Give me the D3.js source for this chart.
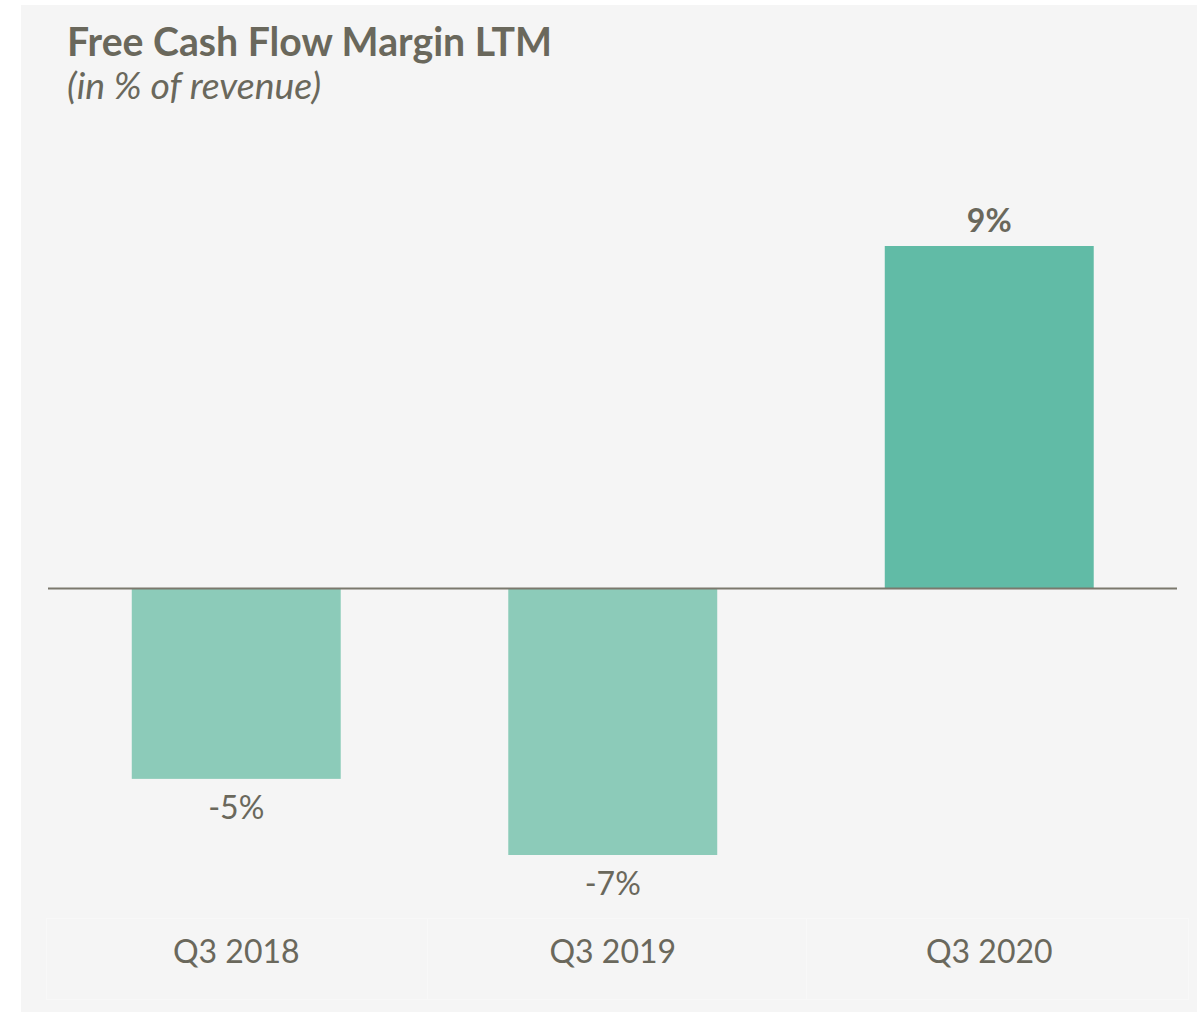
<!DOCTYPE html>
<html>
<head>
<meta charset="utf-8">
<script src="https://cdn.jsdelivr.net/npm/d3@7"></script>
<style>
  html, body { margin: 0; padding: 0; background: #ffffff; }
  svg { display: block; }
</style>
</head>
<body>
<svg id="chart" width="1201" height="1014"></svg>
<script>
const categories = ["Q3 2018", "Q3 2019", "Q3 2020"];
const values = [-5, -7, 9];
const valueLabels = ["-5%", "-7%", "9%"];
const titleText = "Free Cash Flow Margin LTM";
const subtitleText = "(in % of revenue)";

const textColor = "#6a685c";
const negColor = "#8ccbb9";
const posColor = "#61bba6";
const font = "Lato, 'Open Sans', sans-serif";

const svg = d3.select("#chart");

// panel background
svg.append("rect").attr("x", 21).attr("y", 5).attr("width", 1176).attr("height", 1007)
  .attr("fill", "#f5f5f5");

const x = d3.scaleBand().domain(categories).range([48, 1177.5])
  .paddingInner(0.445).paddingOuter(0.2225);
const y = d3.scaleLinear().domain([-7, 9]).range([855, 246]);

// faint table grid behind category labels
const tbl = svg.append("g").attr("stroke", "#f8f8f8").attr("stroke-width", 1).attr("fill", "none");
tbl.append("rect").attr("x", 46.5).attr("y", 918.5).attr("width", 1142).attr("height", 81);
[427.5, 806.5].forEach(v => tbl.append("line").attr("x1", v).attr("x2", v).attr("y1", 918).attr("y2", 999));

// title
svg.append("text").attr("x", 67).attr("y", 56)
  .attr("font-family", font).attr("font-weight", 700).attr("font-size", 39.2)
  .attr("fill", textColor).text(titleText);
svg.append("text").attr("x", 67).attr("y", 99)
  .attr("font-family", font).attr("font-style", "italic").attr("font-size", 37.4)
  .attr("fill", textColor).text(subtitleText);

// bars
svg.append("g").selectAll("rect").data(categories).join("rect")
  .attr("x", d => x(d))
  .attr("width", x.bandwidth())
  .attr("y", (d, i) => Math.min(y(values[i]), y(0)))
  .attr("height", (d, i) => Math.abs(y(values[i]) - y(0)))
  .attr("fill", (d, i) => values[i] < 0 ? negColor : posColor);

// zero line
svg.append("line").attr("x1", 48).attr("x2", 1177).attr("y1", y(0)).attr("y2", y(0))
  .attr("stroke", "#7b786d").attr("stroke-width", 2);

// value labels
svg.append("g").selectAll("text").data(categories).join("text")
  .attr("x", d => x(d) + x.bandwidth() / 2)
  .attr("y", (d, i) => values[i] < 0 ? y(values[i]) + 40 : y(values[i]) - 14)
  .attr("text-anchor", "middle")
  .attr("font-family", font).attr("font-size", 32)
  .attr("font-weight", (d, i) => values[i] < 0 ? 400 : 700)
  .attr("fill", textColor)
  .text((d, i) => valueLabels[i]);

// category axis labels
const axis = d3.axisBottom(x).tickSize(0).tickPadding(0);
const ag = svg.append("g").attr("transform", "translate(0,963)").call(axis);
ag.select(".domain").remove();
ag.selectAll("text").attr("dy", 0).attr("font-family", font).attr("font-size", 32)
  .attr("fill", textColor);
</script>
</body>
</html>
